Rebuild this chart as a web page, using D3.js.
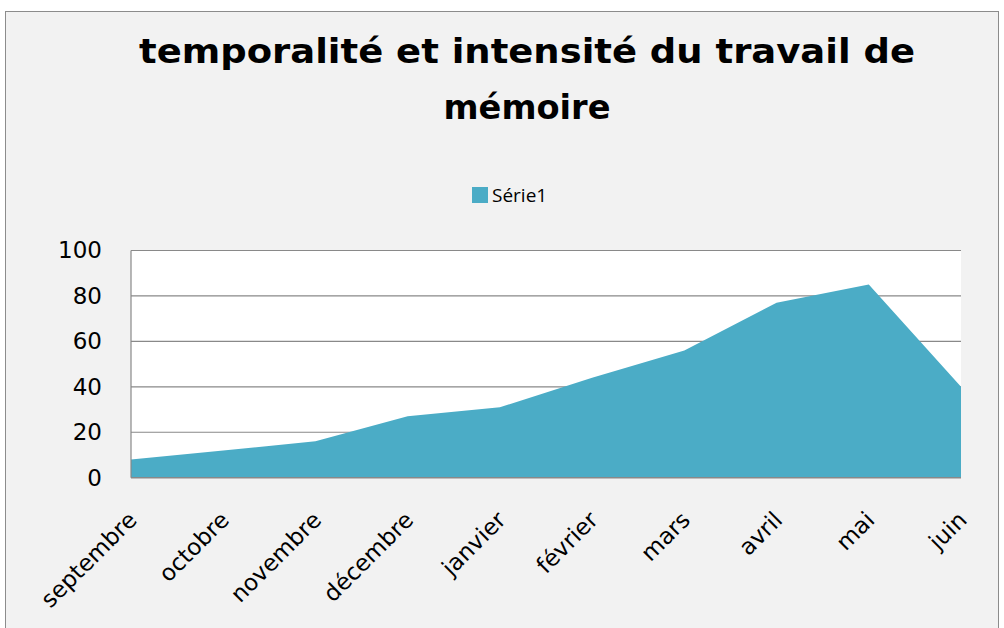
<!DOCTYPE html>
<html>
<head>
<meta charset="utf-8">
<script src="https://cdn.jsdelivr.net/npm/d3@7"></script>
<style>
    body { margin: 0; background: #ffffff; }
    svg { display: block; }
</style>
</head>
<body>
<div id="graph_container"></div>
<script>
var months = ["septembre", "octobre", "novembre", "décembre", "janvier",
              "février", "mars", "avril", "mai", "juin"];
var values = [8, 12, 16, 27, 31, 44, 56, 77, 85, 40];
var yTicks = [0, 20, 40, 60, 80, 100];
var seriesName = "Série1";
var titleLines = ["temporalité et intensité du travail de", "mémoire"];

createGraph();

function createGraph() {
    var frame_width  = 1004,
        frame_height = 628,
        plot = {left: 131, right: 961, top: 250.5, bottom: 477.7},
        fill = "#4bacc6",
        grid = "#898989";

    var svg = d3.select("#graph_container").append("svg")
        .attr("width", frame_width)
        .attr("height", frame_height);

    // chart frame
    svg.append("rect")
        .attr("x", 5.5).attr("y", 11.5)
        .attr("width", 993).attr("height", 640)
        .attr("fill", "#f2f2f2")
        .attr("stroke", "#8c8c8c")
        .attr("stroke-width", 1);

    // title
    var title = svg.append("text")
        .attr("text-anchor", "middle")
        .attr("font-family", "'Comic Sans MS', 'DejaVu Sans', sans-serif")
        .attr("font-weight", "bold")
        .attr("font-size", 33)
        .attr("fill", "#000");
    title.append("tspan").attr("x", 527).attr("y", 63)
        .attr("textLength", 776).attr("lengthAdjust", "spacingAndGlyphs")
        .text(titleLines[0]);
    title.append("tspan").attr("x", 527).attr("y", 119)
        .attr("textLength", 167).attr("lengthAdjust", "spacingAndGlyphs")
        .text(titleLines[1]);

    // legend
    svg.append("rect")
        .attr("x", 472).attr("y", 187)
        .attr("width", 16).attr("height", 16)
        .attr("fill", fill);
    svg.append("text")
        .attr("x", 492).attr("y", 202)
        .attr("font-family", "'Open Sans', sans-serif")
        .attr("font-size", 19)
        .attr("fill", "#000")
        .text(seriesName);

    var x = d3.scalePoint()
        .domain(months)
        .range([plot.left, plot.right]);
    var y = d3.scaleLinear()
        .domain([0, 100])
        .range([plot.bottom, plot.top]);

    // plot area
    svg.append("rect")
        .attr("x", plot.left).attr("y", plot.top)
        .attr("width", plot.right - plot.left)
        .attr("height", plot.bottom - plot.top)
        .attr("fill", "#ffffff");

    // gridlines
    svg.append("g")
        .selectAll("line")
        .data(yTicks.filter(function(d) { return d > 0; }))
        .enter().append("line")
        .attr("x1", plot.left).attr("x2", plot.right)
        .attr("y1", function(d) { return y(d); })
        .attr("y2", function(d) { return y(d); })
        .attr("stroke", grid)
        .attr("stroke-width", 1.2);

    // area
    var area = d3.area()
        .x(function(d, i) { return x(months[i]); })
        .y0(y(0))
        .y1(function(d) { return y(d); });
    svg.append("path")
        .datum(values)
        .attr("fill", fill)
        .attr("d", area);

    // axes lines
    svg.append("line")
        .attr("x1", plot.left).attr("x2", plot.left)
        .attr("y1", plot.top).attr("y2", plot.bottom)
        .attr("stroke", grid).attr("stroke-width", 1.2);
    svg.append("line")
        .attr("x1", plot.left).attr("x2", plot.right)
        .attr("y1", plot.bottom).attr("y2", plot.bottom)
        .attr("stroke", grid).attr("stroke-width", 1.6);

    // y axis labels
    var yAxis = svg.append("g")
        .attr("transform", "translate(" + plot.left + ",0)")
        .call(d3.axisLeft(y).tickValues(yTicks).tickSize(0).tickPadding(29));
    yAxis.select(".domain").remove();
    yAxis.selectAll("text")
        .attr("font-family", "'DejaVu Sans', sans-serif")
        .attr("font-size", 23)
        .attr("fill", "#000");

    // x axis labels
    var xAxis = svg.append("g")
        .attr("transform", "translate(0," + plot.bottom + ")")
        .call(d3.axisBottom(x).tickSize(0).tickPadding(0));
    xAxis.select(".domain").remove();
    xAxis.selectAll("text")
        .attr("font-family", "'Comic Sans MS', 'DejaVu Sans', sans-serif")
        .attr("font-size", 23)
        .attr("fill", "#000")
        .attr("text-anchor", "end")
        .attr("dy", "0.35em")
        .attr("y", 0)
        .attr("transform", "translate(1,38) rotate(-45)");
}
</script>
</body>
</html>
